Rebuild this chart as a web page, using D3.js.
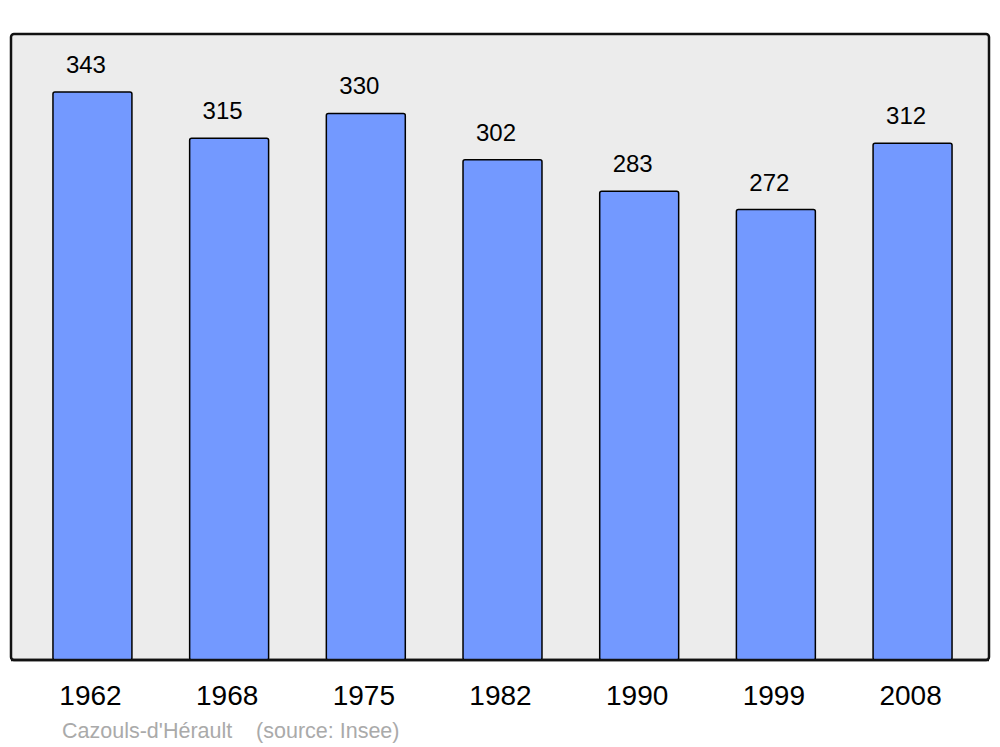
<!DOCTYPE html>
<html><head><meta charset="utf-8">
<script src="https://cdn.jsdelivr.net/npm/d3@7"></script>
<style>body{margin:0;background:#fff}svg{display:block}text{font-family:"Liberation Sans",Arial,sans-serif}</style>
</head><body>
<script>
const years = ["1962","1968","1975","1982","1990","1999","2008"];
const population = [343,315,330,302,283,272,312];
const title = "Cazouls-d'Hérault    (source: Insee)";

(function(){
const W=1000,H=747;
const svg=d3.select("body").append("svg").attr("width",W).attr("height",H);
const pL=11,pR=989,pT=34,pB=660;

svg.append("rect").attr("x",pL).attr("y",pT).attr("width",pR-pL).attr("height",pB-pT)
  .attr("rx",3).attr("fill","#ececec").attr("stroke","#111").attr("stroke-width",2.5);

const x=d3.scaleBand().domain(years).range([11,994]).paddingInner(0.4223).paddingOuter(0.307);
const y=d3.scaleLinear().domain([0,378]).range([pB,pT]);

const data=years.map((yr,i)=>({yr,v:population[i]}));

svg.selectAll("rect.bar").data(data).enter().append("rect").attr("class","bar")
  .attr("x",d=>x(d.yr)).attr("y",d=>y(d.v)).attr("width",x.bandwidth()).attr("height",d=>pB-y(d.v))
  .attr("rx",2).attr("fill","#7399ff").attr("stroke","#000").attr("stroke-width",1.5);

svg.append("line").attr("x1",pL).attr("x2",pR).attr("y1",pB).attr("y2",pB).attr("stroke","#111").attr("stroke-width",2.5);

svg.selectAll("text.val").data(data).enter().append("text").attr("class","val")
  .attr("x",d=>x(d.yr)+x.bandwidth()/2-6.5).attr("y",d=>y(d.v)-19)
  .attr("text-anchor","middle").attr("font-size",24).attr("fill","#000").text(d=>d.v);

const xAxis=svg.append("g").attr("transform",`translate(0,${pB})`)
  .call(d3.axisBottom(x).tickSize(0).tickPadding(0));
xAxis.select(".domain").remove();
xAxis.selectAll("text").attr("font-size",28).attr("fill","#000").attr("dy",null).attr("y",45).attr("x",-2)
  .style("font-family",'"Liberation Sans",Arial,sans-serif');

svg.append("text").attr("x",62).attr("y",738).attr("font-size",21.5).attr("fill","#aaa")
  .attr("xml:space","preserve").style("white-space","pre").text(title);
})();
</script>
</body></html>
